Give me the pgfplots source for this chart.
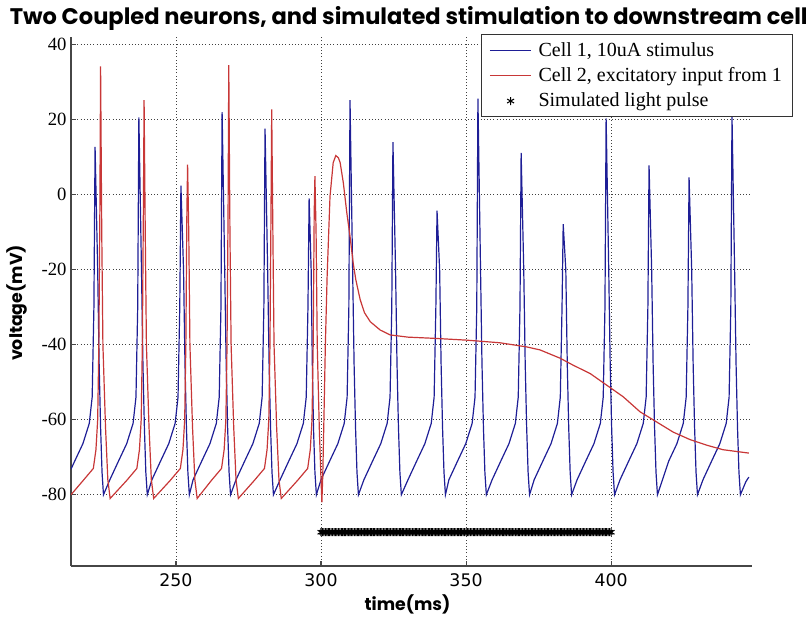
\documentclass[border=0pt]{standalone}
\usepackage{pgfplots}
\pgfplotsset{compat=1.18}
\usepackage{fontspec}
\setmainfont{Liberation Serif}
\newfontfamily\titlefont{Poppins}
\newfontfamily\xtickfont{DejaVu Sans}
\definecolor{cellblue}{RGB}{30,30,150}
\definecolor{cellred}{RGB}{200,55,55}
\definecolor{axgray}{RGB}{70,70,70}
\begin{document}
\begin{tikzpicture}
\begin{axis}[
 name=ax,
 scale only axis, width=510.75pt, height=396.75pt,
 xmin=213.8, xmax=448.6, ymin=-99, ymax=42,
 axis x line*=bottom, axis y line*=left,
 axis line style={axgray, line width=0.9pt, -},
 xtick={250,300,350,400}, ytick={-80,-60,-40,-20,0,20,40},
 tick align=inside, major tick length=3.75pt, tick style={axgray, line width=0.8pt},
 grid=major, major grid style={black!75, line width=0.5pt, dash pattern=on 0.6pt off 1.8pt},
 /pgf/number format/assume math mode=true,
 yticklabel style={font=\fontsize{14}{14}\selectfont, inner sep=0pt, xshift=-3.2pt},
 xticklabel style={font=\xtickfont\fontsize{13}{13}\selectfont, inner sep=0pt, yshift=-5.25pt},
 legend style={at={(1.0602,1.0057)}, anchor=north east, draw=black!80, line width=0.75pt, fill=white,
   font=\fontsize{15}{15}\selectfont, inner xsep=6pt, inner ysep=4pt, row sep=3pt, column sep=3pt},
 legend cell align=left,
 legend image code/.code={\draw[mark repeat=2,mark phase=2,#1] plot coordinates {(0pt,0pt) (15.5pt,0pt) (31pt,0pt)};},
]
\addplot[cellblue, line width=0.9pt] coordinates {
(213.8,-73.2) (215.1,-71) (217.9,-66.4) (220.1,-61) (221.1,-54) (221.7,-30) (222.1,12.7) (223.0,-20) (223.5,-45) (224.0,-62) (224.5,-74) (225.0,-80)
(227.2,-76) (230.2,-71) (233.0,-66.4) (235.2,-61) (236.2,-54) (236.8,-30) (237.2,20.6) (238.1,-20) (238.6,-45) (239.1,-62) (239.6,-74) (240.1,-80)
(241.7,-76) (244.7,-71) (247.5,-66.4) (249.7,-61) (250.7,-54) (251.3,-30) (251.7,2.4) (252.6,-20) (253.1,-45) (253.6,-62) (254.1,-74) (254.6,-80)
(255.9,-76) (258.9,-71) (261.7,-66.4) (263.9,-61) (264.9,-54) (265.5,-30) (265.9,22.0) (266.8,-20) (267.3,-45) (267.8,-62) (268.3,-74) (268.8,-80)
(270.7,-76) (273.7,-71) (276.5,-66.4) (278.7,-61) (279.7,-54) (280.3,-30) (280.7,17.6) (281.6,-20) (282.1,-45) (282.6,-62) (283.1,-74) (283.6,-80)
(285.9,-76) (288.9,-71) (291.7,-66.4) (293.9,-61) (294.9,-54) (295.5,-30) (295.9,-1.0) (296.6,-20) (297.0,-45) (297.4,-62) (297.9,-74) (298.4,-80)
(300.0,-76) (303.0,-71) (305.8,-66.4) (308.0,-61) (309.0,-54) (309.6,-30) (310.0,25.2) (310.9,-20) (311.4,-45) (311.9,-62) (312.4,-74) (312.9,-80)
(314.8,-76) (317.8,-71) (320.6,-66.4) (322.8,-61) (323.8,-54) (324.4,-30) (324.8,14.0) (325.7,-20) (326.2,-45) (326.7,-62) (327.2,-74) (327.7,-80)
(330.0,-76) (333.0,-71) (335.8,-66.4) (338.0,-61) (339.0,-54) (339.6,-30) (340.0,-4.3) (340.9,-20) (341.4,-45) (341.9,-62) (342.4,-74) (342.9,-80)
(344.1,-76) (347.1,-71) (349.9,-66.4) (352.1,-61) (353.1,-54) (353.7,-30) (354.1,25.6) (355.0,-20) (355.5,-45) (356.0,-62) (356.5,-74) (357.0,-80)
(359.0,-76) (362.0,-71) (364.8,-66.4) (367.0,-61) (368.0,-54) (368.6,-30) (369.0,11.1) (369.9,-20) (370.4,-45) (370.9,-62) (371.4,-74) (371.9,-80)
(373.5,-76) (376.5,-71) (379.3,-66.4) (381.5,-61) (382.5,-54) (383.1,-30) (383.5,-7.9) (384.4,-20) (384.9,-45) (385.4,-62) (385.9,-74) (386.4,-80)
(388.3,-76) (391.3,-71) (394.1,-66.4) (396.3,-61) (397.3,-54) (397.9,-30) (398.3,20.3) (399.2,-20) (399.7,-45) (400.2,-62) (400.7,-74) (401.2,-80)
(403.1,-76) (406.1,-71) (408.9,-66.4) (411.1,-61) (412.1,-54) (412.7,-30) (413.1,7.8) (414.0,-20) (414.5,-45) (415.0,-62) (415.5,-74) (416.0,-80)
(417.3,-77) (419.9,-71) (422.7,-66.4) (424.9,-61) (425.9,-54) (426.5,-30) (426.9,4.6) (427.8,-20) (428.3,-45) (428.8,-62) (429.3,-74) (429.8,-80)
(431.7,-76) (434.7,-71) (437.5,-66.4) (439.7,-61) (440.7,-54) (441.3,-30) (441.7,21.0) (442.6,-20) (443.1,-45) (443.6,-62) (444.1,-74) (444.6,-80)
(446.5,-76.5) (447.5,-75.3)
};
\addlegendentry{Cell 1, 10uA stimulus}
\addplot[cellred, line width=0.9pt] coordinates {
(213.8,-80.0)
(218.0,-76.2) (221.5,-73) (222.4,-68) (223.0,-60) (223.4,-40) (223.75,-5) (224.0,34.2) (224.4,-10) (224.8,-40) (225.7,-62) (226.5,-76) (227.3,-81)
(233.0,-76.2) (236.5,-73) (237.4,-68) (238.0,-60) (238.4,-40) (238.75,-5) (239.0,25.2) (239.4,-10) (239.8,-40) (240.7,-62) (241.5,-76) (242.3,-81)
(248.0,-76.2) (251.5,-73) (252.4,-68) (253.0,-60) (253.4,-40) (253.75,-5) (254.0,8.0) (254.4,-10) (254.8,-40) (255.7,-62) (256.5,-76) (257.3,-81)
(262.2,-76.2) (265.7,-73) (266.6,-68) (267.2,-60) (267.6,-40) (267.95,-5) (268.2,34.5) (268.6,-10) (269.0,-40) (269.9,-62) (270.7,-76) (271.5,-81)
(277.0,-76.2) (280.5,-73) (281.4,-68) (282.0,-60) (282.4,-40) (282.75,-5) (283.0,22.7) (283.4,-10) (283.8,-40) (284.7,-62) (285.5,-76) (286.3,-81)
(291.9,-76.2) (295.4,-73) (296.3,-68) (296.9,-60) (297.3,-40) (297.65,-5) (297.9,4.9) (298.3,-10) (298.7,-40) (299.4,-62) (300.0,-76) (300.3,-82)
(300.6,-75) (301.0,-60) (301.5,-40) (302.1,-22) (303.1,-0.5) (304.2,8.5) (305.1,10.4) (306.0,9.8) (306.6,8.5) (307.7,3.1) (308.9,-4.9)
(310.0,-11.1) (311.1,-18.3) (312.0,-22.7) (313.5,-28) (315.0,-31.5) (317.0,-33.9) (320.4,-36.1) (323.8,-37.4) (330.0,-38.0)
(338.6,-38.3) (350.2,-38.8) (361.7,-39.5) (370.9,-40.6) (375.5,-41.4) (382.4,-43.6) (387.0,-45.5) (392.8,-47.7) (398.5,-50.8)
(404.2,-53.9) (410.0,-57.9) (415.7,-60.6) (421.4,-63.3) (427.2,-65.3) (433.0,-66.8) (438.6,-68.0) (444.5,-68.6) (447.5,-68.9)
};
\addlegendentry{Cell 2, excitatory input from 1}
\addplot[only marks, mark=asterisk, mark size=3pt, black, mark options={line width=0.8pt}] coordinates {
(300,-90) (300.5,-90) (301,-90) (301.5,-90) (302,-90) (302.5,-90) (303,-90) (303.5,-90) (304,-90) (304.5,-90)
(305,-90) (305.5,-90) (306,-90) (306.5,-90) (307,-90) (307.5,-90) (308,-90) (308.5,-90) (309,-90) (309.5,-90)
(310,-90) (310.5,-90) (311,-90) (311.5,-90) (312,-90) (312.5,-90) (313,-90) (313.5,-90) (314,-90) (314.5,-90)
(315,-90) (315.5,-90) (316,-90) (316.5,-90) (317,-90) (317.5,-90) (318,-90) (318.5,-90) (319,-90) (319.5,-90)
(320,-90) (320.5,-90) (321,-90) (321.5,-90) (322,-90) (322.5,-90) (323,-90) (323.5,-90) (324,-90) (324.5,-90)
(325,-90) (325.5,-90) (326,-90) (326.5,-90) (327,-90) (327.5,-90) (328,-90) (328.5,-90) (329,-90) (329.5,-90)
(330,-90) (330.5,-90) (331,-90) (331.5,-90) (332,-90) (332.5,-90) (333,-90) (333.5,-90) (334,-90) (334.5,-90)
(335,-90) (335.5,-90) (336,-90) (336.5,-90) (337,-90) (337.5,-90) (338,-90) (338.5,-90) (339,-90) (339.5,-90)
(340,-90) (340.5,-90) (341,-90) (341.5,-90) (342,-90) (342.5,-90) (343,-90) (343.5,-90) (344,-90) (344.5,-90)
(345,-90) (345.5,-90) (346,-90) (346.5,-90) (347,-90) (347.5,-90) (348,-90) (348.5,-90) (349,-90) (349.5,-90)
(350,-90) (350.5,-90) (351,-90) (351.5,-90) (352,-90) (352.5,-90) (353,-90) (353.5,-90) (354,-90) (354.5,-90)
(355,-90) (355.5,-90) (356,-90) (356.5,-90) (357,-90) (357.5,-90) (358,-90) (358.5,-90) (359,-90) (359.5,-90)
(360,-90) (360.5,-90) (361,-90) (361.5,-90) (362,-90) (362.5,-90) (363,-90) (363.5,-90) (364,-90) (364.5,-90)
(365,-90) (365.5,-90) (366,-90) (366.5,-90) (367,-90) (367.5,-90) (368,-90) (368.5,-90) (369,-90) (369.5,-90)
(370,-90) (370.5,-90) (371,-90) (371.5,-90) (372,-90) (372.5,-90) (373,-90) (373.5,-90) (374,-90) (374.5,-90)
(375,-90) (375.5,-90) (376,-90) (376.5,-90) (377,-90) (377.5,-90) (378,-90) (378.5,-90) (379,-90) (379.5,-90)
(380,-90) (380.5,-90) (381,-90) (381.5,-90) (382,-90) (382.5,-90) (383,-90) (383.5,-90) (384,-90) (384.5,-90)
(385,-90) (385.5,-90) (386,-90) (386.5,-90) (387,-90) (387.5,-90) (388,-90) (388.5,-90) (389,-90) (389.5,-90)
(390,-90) (390.5,-90) (391,-90) (391.5,-90) (392,-90) (392.5,-90) (393,-90) (393.5,-90) (394,-90) (394.5,-90)
(395,-90) (395.5,-90) (396,-90) (396.5,-90) (397,-90) (397.5,-90) (398,-90) (398.5,-90) (399,-90) (399.5,-90)
(400,-90)
};
\addlegendentry{Simulated light pulse}
\end{axis}
\node[font=\titlefont\bfseries\fontsize{16.9}{17}\selectfont, anchor=base] at ([xshift=-2.1pt, yshift=9pt]ax.north) {Two Coupled neurons, and simulated stimulation to downstream cell};
\node[rotate=90, font=\titlefont\bfseries\fontsize{13}{13}\selectfont] at ([xshift=-40.5pt, yshift=-1.1pt]ax.west) {voltage(mV)};
\node[font=\titlefont\bfseries\fontsize{13}{13}\selectfont] at ([xshift=-3pt, yshift=-28.5pt]ax.south) {time(ms)};
\pgfresetboundingbox
\path[use as bounding box] ([xshift=-53.25pt,yshift=-37.5pt]ax.south west) rectangle ([xshift=45pt,yshift=27.75pt]ax.north east);
\end{tikzpicture}
\end{document}
